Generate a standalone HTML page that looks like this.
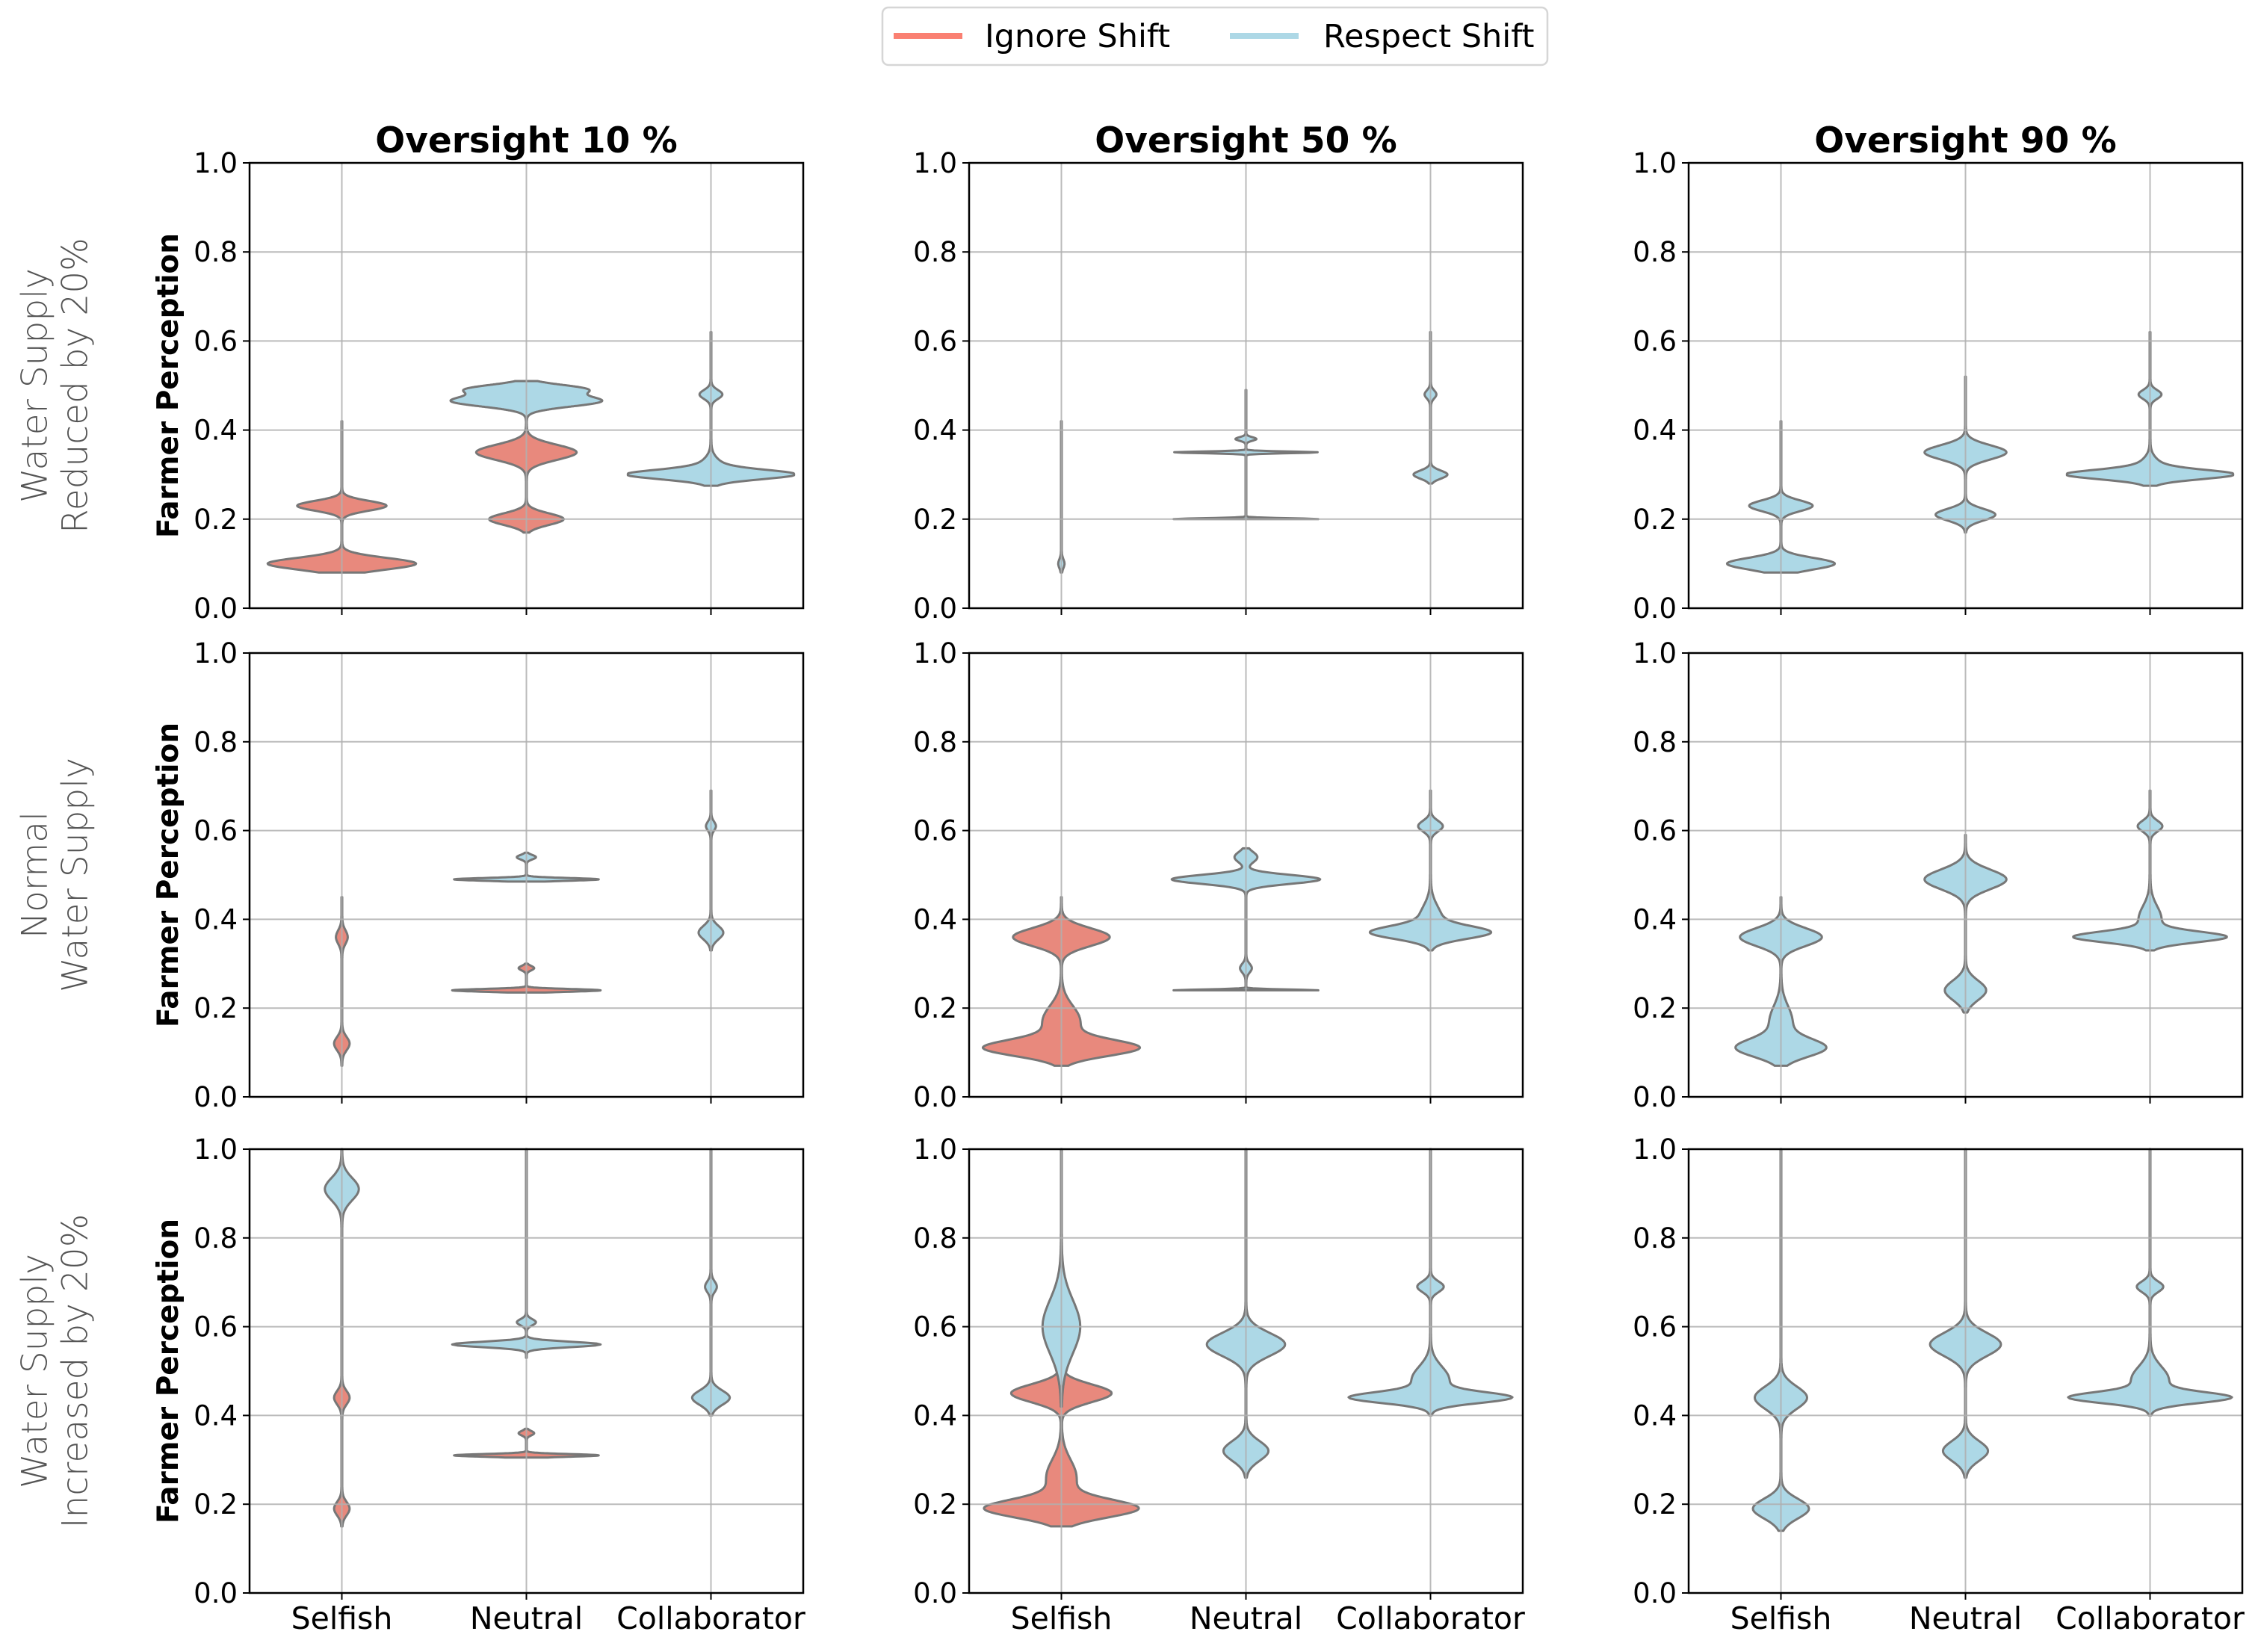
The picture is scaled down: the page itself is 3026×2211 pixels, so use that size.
<!DOCTYPE html>
<html><head><meta charset="utf-8"><style>
html,body{margin:0;padding:0;background:#fff;}
svg{display:block;font-family:"DejaVu Sans","Liberation Sans",sans-serif;}
</style></head><body>
<svg id="chart" xmlns="http://www.w3.org/2000/svg" width="3026" height="2211" viewBox="0 0 3026 2211">
<g>
<rect x="1181" y="10" width="890" height="77" rx="8" fill="#fff" stroke="#d6d6d6" stroke-width="2.5"/>
<line x1="1196" y1="48" x2="1288" y2="48" stroke="#fa8072" stroke-width="8"/>
<text x="1318" y="63" font-size="43" fill="#000">Ignore Shift</text>
<line x1="1646" y1="48" x2="1738" y2="48" stroke="#add8e6" stroke-width="8"/>
<text x="1771" y="63" font-size="43" fill="#000">Respect Shift</text>
</g>
<g id="panels"></g>
</svg>
<script>
const categories = ["Selfish", "Neutral", "Collaborator"];
const columnTitles = ["Oversight 10 %", "Oversight 50 %", "Oversight 90 %"];
const rowLabels = [["Water Supply", "Reduced by 20%"], ["Normal", "Water Supply"], ["Water Supply", "Increased by 20%"]];
const yTicks = [0.0, 0.2, 0.4, 0.6, 0.8, 1.0];
const yTickLabels = ["0.0", "0.2", "0.4", "0.6", "0.8", "1.0"];
const seriesColors = {ignore: "#e8897d", respect: "#add8e6"};
// violin specs: [row, col, categoryIndex, series, yMin, yMax]
const violinSpecs = [
  [0,0,0,"ignore",0.08,0.42],[0,0,1,"ignore",0.17,0.42],[0,0,1,"respect",0.42,0.51],[0,0,2,"respect",0.275,0.62],
  [0,1,0,"respect",0.08,0.42],[0,1,1,"respect",0.20,0.49],[0,1,2,"respect",0.28,0.62],
  [0,2,0,"respect",0.08,0.42],[0,2,1,"respect",0.17,0.52],[0,2,2,"respect",0.275,0.62],
  [1,0,0,"ignore",0.07,0.45],[1,0,1,"ignore",0.235,0.30],[1,0,1,"respect",0.485,0.55],[1,0,2,"respect",0.33,0.69],
  [1,1,0,"ignore",0.07,0.45],[1,1,1,"respect",0.24,0.56],[1,1,2,"respect",0.33,0.69],
  [1,2,0,"respect",0.07,0.45],[1,2,1,"respect",0.19,0.59],[1,2,2,"respect",0.33,0.69],
  [2,0,0,"ignore",0.15,0.50],[2,0,0,"respect",0.50,1.0],[2,0,1,"ignore",0.305,0.37],[2,0,1,"respect",0.53,1.0],[2,0,2,"respect",0.40,1.0],
  [2,1,0,"ignore",0.15,0.50],[2,1,0,"respect",0.42,1.0],[2,1,1,"respect",0.26,1.0],[2,1,2,"respect",0.40,1.0],
  [2,2,0,"respect",0.14,1.0],[2,2,1,"respect",0.26,1.0],[2,2,2,"respect",0.40,1.0]
];
// density components per violin (same order): [center, halfWidth(category units), spread]
const violinModes = [
  [[0.10,0.40,0.013],[0.23,0.24,0.011]],
  [[0.35,0.27,0.017],[0.20,0.20,0.013]],
  [[0.465,0.40,0.012],[0.492,0.30,0.010]],
  [[0.30,0.39,0.010],[0.31,0.08,0.02],[0.48,0.06,0.010]],
  [[0.10,0.015,0.01]],
  [[0.35,0.39,0.002],[0.20,0.39,0.002],[0.38,0.055,0.004]],
  [[0.30,0.09,0.009],[0.48,0.03,0.009]],
  [[0.10,0.29,0.013],[0.23,0.17,0.012]],
  [[0.35,0.22,0.016],[0.21,0.16,0.013]],
  [[0.30,0.39,0.010],[0.31,0.08,0.02],[0.48,0.06,0.010]],
  [[0.36,0.03,0.015],[0.12,0.04,0.015]],
  [[0.24,0.40,0.003],[0.29,0.04,0.005]],
  [[0.49,0.39,0.003],[0.54,0.05,0.005]],
  [[0.37,0.065,0.015],[0.61,0.025,0.010]],
  [[0.36,0.26,0.02],[0.11,0.40,0.018],[0.17,0.10,0.035]],
  [[0.49,0.40,0.010],[0.54,0.06,0.012],[0.29,0.03,0.010],[0.24,0.39,0.002]],
  [[0.37,0.29,0.014],[0.40,0.06,0.03],[0.61,0.065,0.012]],
  [[0.36,0.22,0.02],[0.11,0.23,0.02],[0.17,0.06,0.035]],
  [[0.49,0.22,0.022],[0.24,0.11,0.022]],
  [[0.36,0.39,0.012],[0.40,0.06,0.03],[0.61,0.065,0.012]],
  [[0.44,0.04,0.015],[0.19,0.04,0.015]],
  [[0.91,0.09,0.025]],
  [[0.31,0.39,0.003],[0.36,0.04,0.005]],
  [[0.56,0.40,0.006],[0.61,0.05,0.007]],
  [[0.44,0.10,0.016],[0.69,0.03,0.012]],
  [[0.45,0.27,0.02],[0.19,0.40,0.02],[0.26,0.08,0.04]],
  [[0.60,0.10,0.06]],
  [[0.56,0.21,0.026],[0.32,0.12,0.022]],
  [[0.44,0.40,0.012],[0.48,0.10,0.03],[0.69,0.07,0.012]],
  [[0.44,0.14,0.025],[0.19,0.15,0.022]],
  [[0.56,0.19,0.026],[0.32,0.12,0.022]],
  [[0.44,0.40,0.012],[0.48,0.10,0.03],[0.69,0.07,0.012]]
];

const NS = "http://www.w3.org/2000/svg";
const colX = [[334,1075],[1297,2038],[2260,3001]];
const rowY = [[218,814],[874,1468],[1538,2132]];
function mk(tag, attrs){const e=document.createElementNS(NS,tag);for(const k in attrs)e.setAttribute(k,attrs[k]);return e;}
function xScale(c, v){const [a,b]=colX[c];return a+(v+0.5)/3*(b-a);}
function yScale(r, v){const [t,b]=rowY[r];return b-v*(b-t);}
const root=document.getElementById('panels');

for(let r=0;r<3;r++){
  const cyr=(rowY[r][0]+rowY[r][1])/2;
  const lab=mk('text',{x:72,y:cyr,'font-size':47,fill:'#555','font-weight':200,'text-anchor':'middle',transform:`rotate(-90 72 ${cyr})`});
  
  
  rowLabels[r].forEach((s,i)=>{const ts=mk('tspan',{x:72,dy:i===0?'-0.2em':'1.15em'});ts.textContent=s;lab.appendChild(ts);});
  root.appendChild(lab);
  for(let c=0;c<3;c++){
    const g=mk('g',{});
    
    
    root.appendChild(g);
    const [x0,x1]=colX[c],[y0,y1]=rowY[r];
    violinSpecs.forEach((sp,i)=>{
      if(sp[0]!==r||sp[1]!==c)return;
      const modes=violinModes[i];
      const cat=sp[2],lo=sp[4],hi=sp[5];
      const N=220;const pts=[];
      for(let k=0;k<=N;k++){
        const y=lo+(hi-lo)*k/N;let w=0.002;
        modes.forEach(m=>{w+=m[1]*Math.exp(-0.5*Math.pow((y-m[0])/m[2],2));});
        pts.push([y,Math.min(w,0.45)]);
      }
      let d='M'+pts.map(p=>`${xScale(c,cat-p[1]).toFixed(1)},${yScale(r,p[0]).toFixed(1)}`).join(' L');
      d+=' L'+pts.slice().reverse().map(p=>`${xScale(c,cat+p[1]).toFixed(1)},${yScale(r,p[0]).toFixed(1)}`).join(' L')+'Z';
      const path=mk('path',{d,fill:seriesColors[sp[3]],stroke:'#777','stroke-width':3,'stroke-linejoin':'round'});
      
      
      g.appendChild(path);
    });
    yTicks.forEach((t,i)=>{
      if(i>0&&i<yTicks.length-1){
        const gl=mk('line',{x1:x0,x2:x1,y1:yScale(r,t),y2:yScale(r,t),stroke:'#b0b0b0','stroke-width':2,opacity:0.85});
        
        
        g.appendChild(gl);
      }
      const tk=mk('line',{x1:x0-9,x2:x0,y1:yScale(r,t),y2:yScale(r,t),stroke:'#000','stroke-width':2});
      
      
      g.appendChild(tk);
      const tl=mk('text',{x:x0-16,y:yScale(r,t)+13,'font-size':37,'text-anchor':'end',fill:'#000'});
      
      
      tl.textContent=yTickLabels[i];
      g.appendChild(tl);
    });
    categories.forEach((cn,ci)=>{
      const xx=xScale(c,ci);
      const gl=mk('line',{x1:xx,x2:xx,y1:y0,y2:y1,stroke:'#b0b0b0','stroke-width':2,opacity:0.85});
      
      
      g.appendChild(gl);
      const tk=mk('line',{x1:xx,x2:xx,y1:y1,y2:y1+9,stroke:'#000','stroke-width':2});
      
      
      g.appendChild(tk);
      if(r===2){
        const tl=mk('text',{x:xx,y:2180,'font-size':41,'text-anchor':'middle',fill:'#000'});
        
        
        tl.textContent=cn;
        g.appendChild(tl);
      }
    });
    const fr=mk('rect',{x:x0,y:y0,width:x1-x0,height:y1-y0,fill:'none',stroke:'#000','stroke-width':2.5});
    
    
    g.appendChild(fr);
    if(r===0){
      const tt=mk('text',{x:(x0+x1)/2,y:204,'font-size':47,'font-weight':'bold','text-anchor':'middle',fill:'#000'});
      
      
      tt.textContent=columnTitles[c];
      g.appendChild(tt);
    }
    if(c===0){
      const cy=(y0+y1)/2;
      const yl=mk('text',{x:238,y:cy,'font-size':39,'font-weight':'bold','text-anchor':'middle',fill:'#000',transform:`rotate(-90 238 ${cy})`});
      
      
      yl.textContent='Farmer Perception';
      g.appendChild(yl);
    }
  }
}
</script>
</body></html>
